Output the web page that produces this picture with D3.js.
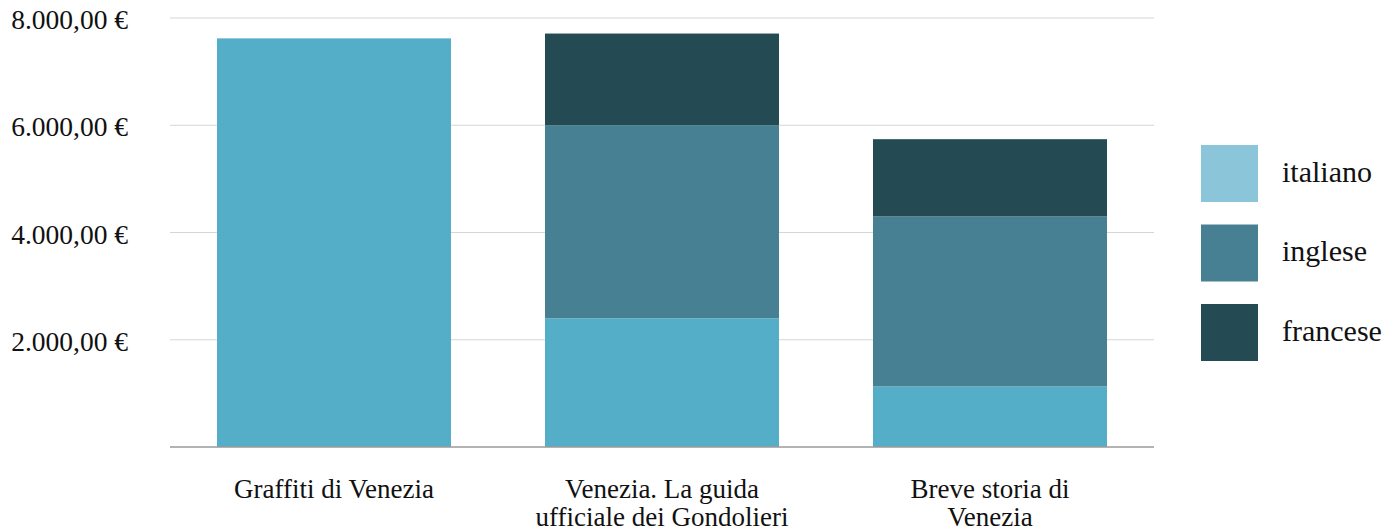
<!DOCTYPE html>
<html>
<head>
<meta charset="utf-8">
<script src="https://cdn.jsdelivr.net/npm/d3@7"></script>
<style>
  html, body { margin: 0; padding: 0; background: #fff; }
  svg { display: block; }
  text { font-family: "Liberation Serif", "Times New Roman", serif; fill: #111; }
</style>
</head>
<body>
<svg id="chart" width="1399" height="532"></svg>
<script>
// Book titles (wrapped into lines) and sales by language, in euro
const categories = ["Graffiti di Venezia", "Venezia. La guida ufficiale dei Gondolieri", "Breve storia di Venezia"];
const categoryLines = [["Graffiti di Venezia"], ["Venezia. La guida", "ufficiale dei Gondolieri"], ["Breve storia di", "Venezia"]];
const languages = ["italiano", "inglese", "francese"];
const italiano = [7620, 2400, 1130];
const inglese = [0, 3600, 3170];
const francese = [0, 1710, 1440];
const yTicks = [2000, 4000, 6000, 8000];
const yTickLabels = ["2.000,00 €", "4.000,00 €", "6.000,00 €", "8.000,00 €"];

const barColors = ["#55aec8", "#488093", "#244a53"];
const legendColors = ["#8ac5da", "#488093", "#244a53"];

const svg = d3.select("#chart");
const plot = { left: 170, right: 1154, top: 18, bottom: 447 };

const x = d3.scaleBand()
  .domain(categories)
  .range([plot.left, plot.right])
  .paddingInner(0.2866)
  .paddingOuter(0.1433);

const y = d3.scaleLinear()
  .domain([0, 8000])
  .range([plot.bottom, plot.top]);

// Horizontal gridlines
svg.append("g")
  .selectAll("line")
  .data(yTicks)
  .join("line")
  .attr("x1", plot.left)
  .attr("x2", plot.right)
  .attr("y1", d => y(d))
  .attr("y2", d => y(d))
  .attr("stroke", "#d6d6d6")
  .attr("stroke-width", 1);

// Y tick labels
svg.append("g")
  .selectAll("text")
  .data(yTicks)
  .join("text")
  .attr("x", 128)
  .attr("y", d => y(d))
  .attr("dy", "0.4em")
  .attr("text-anchor", "end")
  .style("font-size", "27.5px")
  .text((d, i) => yTickLabels[i]);

// Stacked bars
const rows = categories.map((c, i) => ({ cat: c, italiano: italiano[i], inglese: inglese[i], francese: francese[i] }));
const stack = d3.stack().keys(languages)(rows);

svg.append("g")
  .selectAll("g")
  .data(stack)
  .join("g")
  .attr("fill", (d, i) => barColors[i])
  .selectAll("rect")
  .data(d => d.filter(s => s[1] - s[0] > 0))
  .join("rect")
  .attr("x", d => x(d.data.cat))
  .attr("width", x.bandwidth())
  .attr("y", d => y(d[1]))
  .attr("height", d => y(d[0]) - y(d[1]));

// Baseline
svg.append("line")
  .attr("x1", plot.left)
  .attr("x2", plot.right)
  .attr("y1", y(0))
  .attr("y2", y(0))
  .attr("stroke", "#9a9a9a")
  .attr("stroke-width", 1.5);

// Category labels
const xl = svg.append("g")
  .selectAll("text")
  .data(categories)
  .join("text")
  .attr("x", d => x(d) + x.bandwidth() / 2)
  .attr("y", 498)
  .attr("text-anchor", "middle")
  .style("font-size", "27px");
xl.selectAll("tspan")
  .data((d, i) => categoryLines[i])
  .join("tspan")
  .attr("x", function () { return d3.select(this.parentNode).attr("x"); })
  .attr("dy", (d, i) => i === 0 ? 0 : 27.5)
  .text(d => d);

// Legend
const legend = svg.append("g")
  .selectAll("g")
  .data(languages)
  .join("g")
  .attr("transform", (d, i) => `translate(1201, ${145 + i * 79.5})`);
legend.append("rect")
  .attr("width", 57)
  .attr("height", 57)
  .attr("fill", (d, i) => legendColors[i]);
legend.append("text")
  .attr("x", 81)
  .attr("y", 26)
  .attr("dy", "0.35em")
  .style("font-size", "30px")
  .text(d => d);
</script>
</body>
</html>
